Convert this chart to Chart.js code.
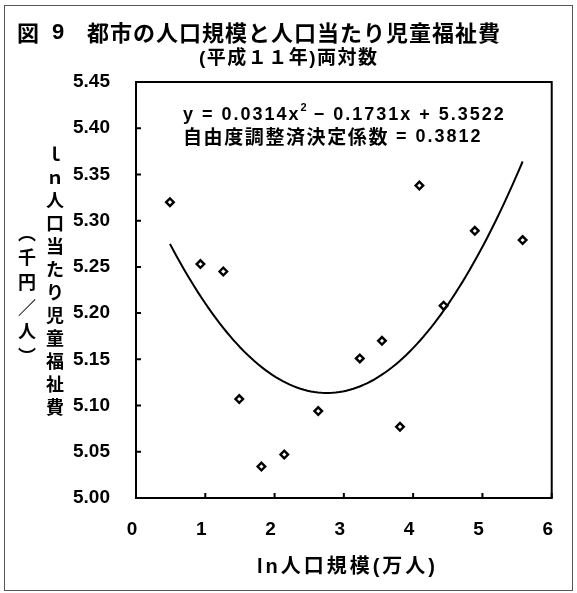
<!DOCTYPE html>
<html lang="ja">
<head>
<meta charset="utf-8">
<title>図9 都市の人口規模と人口当たり児童福祉費</title>
<script src="https://cdn.jsdelivr.net/npm/chart.js@4"></script>
<style>
  html, body { margin: 0; padding: 0; background: #fff; }
  #chart { display: block; }
</style>
</head>
<body>
<canvas id="chart" width="577" height="593"></canvas>
<script>
// ln 人口規模 (万人) と ln 人口当たり児童福祉費 (千円/人)
const lnPop  = [0.49, 0.93, 1.26, 1.49, 1.81, 2.14, 2.63, 3.23, 3.55, 3.81, 4.09, 4.44, 4.89, 5.58];
const lnCost = [5.320, 5.253, 5.245, 5.107, 5.034, 5.047, 5.094, 5.151, 5.170, 5.077, 5.338, 5.208, 5.289, 5.279];

// printed trendline: y = a x^2 + b x + c
const trendCoef = [0.0314, -0.1731, 5.3522];

const xTicks = [0, 1, 2, 3, 4, 5, 6];
const yTicks = [5.00, 5.05, 5.10, 5.15, 5.20, 5.25, 5.30, 5.35, 5.40, 5.45];

const FONT = '"Liberation Sans", Arial, "Noto Sans CJK JP", sans-serif';
const CJK = '"Noto Sans CJK JP", sans-serif';

// trend curve over the data range
const trendPts = [];
const x0 = Math.min(...lnPop), x1 = Math.max(...lnPop);
for (let i = 0; i <= 100; i++) {
    const x = x0 + (x1 - x0) * i / 100;
    trendPts.push({ x: x, y: trendCoef[0] * x * x + trendCoef[1] * x + trendCoef[2] });
}

function drawParts(ctx, parts, x, y) {
    parts.forEach(p => {
        ctx.font = p.font;
        ctx.letterSpacing = (p.ls || 0) + 'px';
        ctx.fillText(p.t, x, y + (p.dy || 0));
        x += ctx.measureText(p.t).width;
    });
    ctx.letterSpacing = '0px';
}

function spreadText(ctx, text, x, y, width) {
    ctx.letterSpacing = '0px';
    const w = ctx.measureText(text).width;
    const n = [...text].length;
    ctx.letterSpacing = ((width - w) / (n - 1)) + 'px';
    ctx.fillText(text, x, y);
    ctx.letterSpacing = '0px';
}

const decor = {
    id: 'decor',
    afterDraw(chart) {
        const ctx = chart.ctx;
        const a = chart.chartArea;
        const xs = chart.scales.x, ys = chart.scales.y;
        ctx.save();

        // outer frame
        ctx.strokeStyle = '#555';
        ctx.lineWidth = 1;
        ctx.strokeRect(4.5, 5.5, 568, 585);

        // plot box + inward ticks
        ctx.strokeStyle = '#000';
        ctx.lineWidth = 2;
        ctx.strokeRect(a.left, a.top, a.right - a.left, a.bottom - a.top);
        ctx.beginPath();
        yTicks.forEach(v => {
            const y = ys.getPixelForValue(v);
            ctx.moveTo(a.left, y); ctx.lineTo(a.left + 5, y);
        });
        xTicks.forEach(v => {
            const x = xs.getPixelForValue(v);
            ctx.moveTo(x, a.bottom); ctx.lineTo(x, a.bottom - 5);
        });
        ctx.stroke();

        ctx.fillStyle = '#000';
        ctx.textBaseline = 'middle';
        ctx.textAlign = 'left';

        // title
        ctx.font = 'bold 22px ' + CJK;
        ctx.fillText('図', 17, 33);
        ctx.font = 'bold 22px ' + FONT;
        ctx.fillText('9', 52, 33);
        ctx.font = 'bold 22px ' + CJK;
        spreadText(ctx, '都市の人口規模と人口当たり児童福祉費', 87, 33, 413);

        // subtitle
        ctx.font = 'bold 19px ' + FONT;
        spreadText(ctx, '(平成１１年)両対数', 199, 59, 178);

        // equation
        const num = 'bold 18px ' + FONT;
        drawParts(ctx, [
            { t: 'y = 0.0314x', font: num, ls: 2 },
            { t: '2', font: 'bold 11px ' + FONT, dy: -7 },
            { t: ' − 0.1731x + 5.3522', font: num, ls: 2 }
        ], 183, 115);
        drawParts(ctx, [
            { t: '自由度調整済決定係数', font: 'bold 19px ' + CJK, ls: 1.6 },
            { t: ' = 0.3812', font: num, ls: 2 }
        ], 183, 137);

        // vertical y-axis title
        ctx.textAlign = 'center';
        ctx.font = 'bold 18px ' + CJK;
        ['ｌ', 'ｎ', '人', '口', '当', 'た', 'り', '児', '童', '福', '祉', '費'].forEach((c, i) => {
            ctx.fillText(c, 55, 154 + i * 23);
        });
        ['︵', '千', '円', '／', '人', '︶'].forEach((c, i) => {
            ctx.fillText(c, 27, 233 + i * 24.6);
        });

        // x-axis title
        ctx.font = 'bold 20px ' + FONT;
        ctx.textAlign = 'left';
        spreadText(ctx, 'ln人口規模(万人)', 257, 567, 178);

        ctx.restore();
    }
};

new Chart(document.getElementById('chart'), {
    type: 'scatter',
    data: {
        datasets: [
            {
                data: lnPop.map((x, i) => ({ x: x, y: lnCost[i] })),
                pointStyle: 'rectRot',
                pointRadius: 3.8,
                pointBorderWidth: 2.4,
                borderColor: '#000',
                backgroundColor: '#fff',
                order: 1
            },
            {
                type: 'line',
                data: trendPts,
                showLine: true,
                pointRadius: 0,
                borderColor: '#000',
                borderWidth: 2,
                fill: false,
                order: 2
            }
        ]
    },
    options: {
        responsive: false,
        animation: false,
        events: [],
        layout: { padding: { top: 82, right: 15, left: 0, bottom: 0 } },
        plugins: { legend: { display: false }, tooltip: { enabled: false } },
        scales: {
            x: {
                type: 'linear',
                min: 0, max: 6,
                afterFit: s => { s.height = 95; },
                afterBuildTicks: s => { s.ticks = xTicks.map(v => ({ value: v })); },
                grid: { display: false, drawTicks: false },
                border: { display: false },
                ticks: {
                    color: '#000',
                    font: { family: FONT, size: 19, weight: 'bold' },
                    padding: 20,
                    labelOffset: -4
                }
            },
            y: {
                min: 5, max: 5.45,
                afterFit: s => { s.width = 136; },
                afterBuildTicks: s => { s.ticks = yTicks.map(v => ({ value: v })); },
                grid: { display: false, drawTicks: false },
                border: { display: false },
                ticks: {
                    color: '#000',
                    font: { family: FONT, size: 19, weight: 'bold' },
                    padding: 26,
                    callback: v => v.toFixed(2)
                }
            }
        }
    },
    plugins: [decor]
});
</script>
</body>
</html>
